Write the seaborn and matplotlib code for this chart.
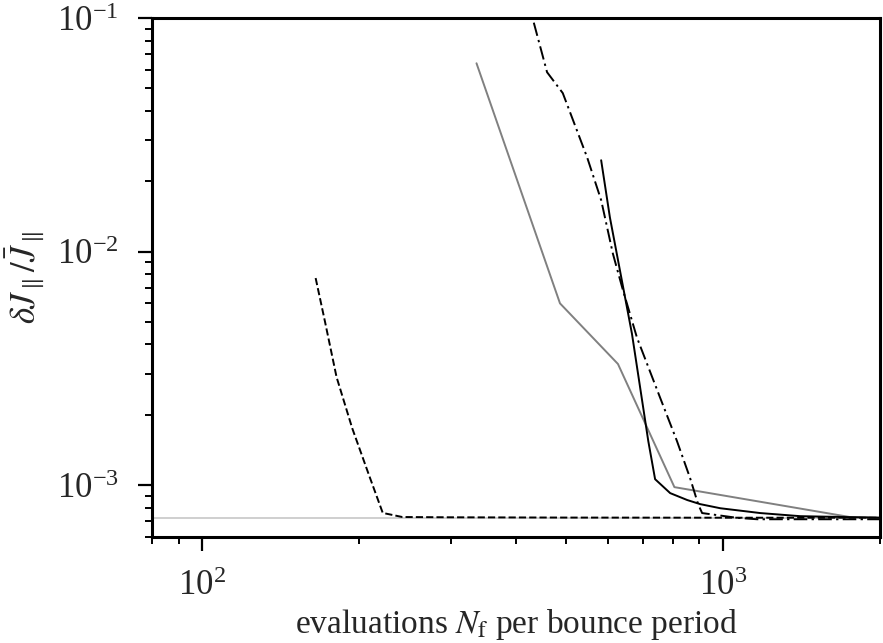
import numpy as np
import pandas as pd
import seaborn as sns
import matplotlib
matplotlib.use("Agg")
import matplotlib.pyplot as plt
from matplotlib.ticker import LogLocator, NullFormatter

# values (evaluations per bounce period vs relative error)
ref_level = 7.2e-4

dashed_x = [165, 172, 181, 194, 209, 222, 242, 300, 500, 1000, 2000]
dashed_y = [7.7e-3, 5.0e-3, 2.9e-3, 1.75e-3, 1.1e-3, 7.6e-4, 7.3e-4, 7.28e-4, 7.26e-4, 7.25e-4, 7.25e-4]

gray_x = [336, 486, 628, 806, 1750, 2000]
gray_y = [6.4e-2, 6.0e-3, 3.3e-3, 9.8e-4, 7.3e-4, 7.25e-4]

dashdot_x = [410, 459, 492, 548, 583, 614, 640, 683, 757, 815, 864, 895, 911, 1064, 1162, 2000]
dashdot_y = [1.5e-1, 5.86e-2, 4.77e-2, 2.53e-2, 1.66e-2, 9.8e-3, 7.0e-3, 4.28e-3, 2.36e-3,
             1.545e-3, 1.07e-3, 8.29e-4, 7.59e-4, 7.24e-4, 7.14e-4, 7.14e-4]

solid_x = [583, 606, 668, 718, 740, 791, 853, 903, 987, 1178, 1406, 2000]
solid_y = [2.46e-2, 1.4e-2, 4.45e-3, 1.545e-3, 1.06e-3, 9.24e-4, 8.63e-4, 8.29e-4,
           7.96e-4, 7.59e-4, 7.36e-4, 7.25e-4]

sns.set_theme(style="ticks")
plt.rcParams["font.family"] = ["Liberation Serif", "DejaVu Serif"]
plt.rcParams["mathtext.fontset"] = "stix"

fig = plt.figure(figsize=(8.83, 6.43), dpi=100)
ax = fig.add_axes([0.172, 0.165, 0.8246, 0.807])

ax.axhline(ref_level, color="#cccccc", lw=1.3, zorder=1)

sns.lineplot(x=dashed_x, y=dashed_y, ax=ax, color="black", lw=1.4,
             linestyle="--", sort=False, estimator=None)
sns.lineplot(x=gray_x, y=gray_y, ax=ax, color="#808080", lw=1.4,
             sort=False, estimator=None)
sns.lineplot(x=dashdot_x, y=dashdot_y, ax=ax, color="black", lw=1.4,
             linestyle=(0, (7, 2.2, 1.2, 2.2)), sort=False, estimator=None)
sns.lineplot(x=solid_x, y=solid_y, ax=ax, color="black", lw=1.4,
             sort=False, estimator=None)

ax.set_xscale("log")
ax.set_yscale("log")
ax.set_xlim(80, 2000)
ax.set_ylim(6e-4, 1e-1)

ax.xaxis.set_minor_locator(LogLocator(base=10, subs=np.arange(2, 10)))
ax.yaxis.set_minor_locator(LogLocator(base=10, subs=np.arange(2, 10)))
ax.xaxis.set_minor_formatter(NullFormatter())
ax.yaxis.set_minor_formatter(NullFormatter())

for s in ax.spines.values():
    s.set_linewidth(2.2)
    s.set_color("black")
ax.tick_params(which="major", length=10, width=1.6, labelsize=25, pad=14, color="black")
ax.tick_params(which="minor", length=5, width=1.4, color="black")

ax.set_xlabel(r"evaluations $N_\mathrm{f}$ per bounce period", fontsize=24, labelpad=3)
ax.set_ylabel(r"$\delta J_\parallel/\bar{J}_\parallel$", fontsize=25, labelpad=8)

fig.savefig("out.png", dpi=100)
